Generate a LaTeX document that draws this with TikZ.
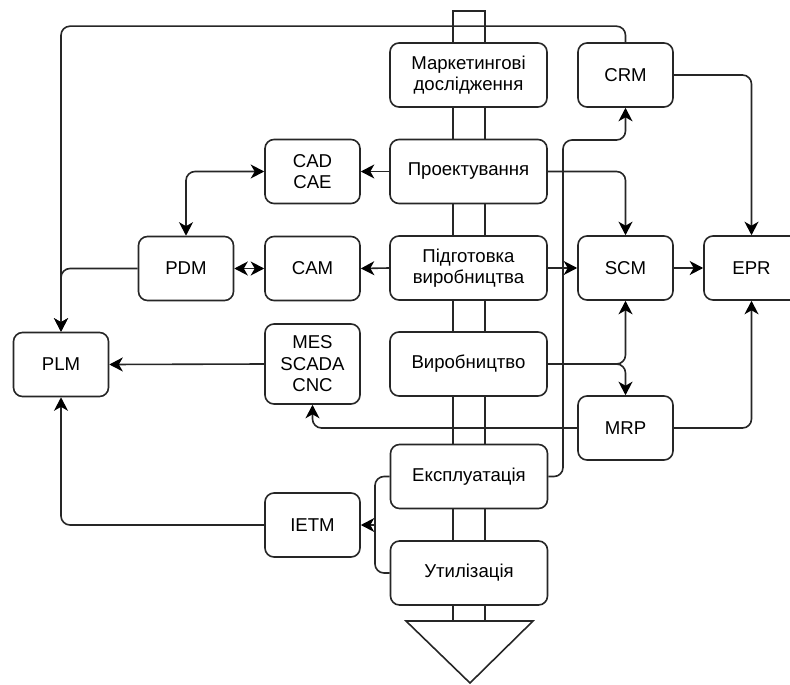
\documentclass[tikz,border=0pt]{standalone}
\usepackage{fontspec}
\setmainfont{Liberation Sans}
\usepackage{tikz}
\usetikzlibrary{arrows.meta, positioning, calc}

\begin{document}
\begin{tikzpicture}[x=1pt, y=-1pt,
  box/.style={draw=black!85, line width=1.6pt, fill=white, rounded corners=9pt, align=center,
    minimum width=95pt, minimum height=64pt, inner sep=2pt, font=\fontsize{18.6}{21.5}\selectfont},
  wide/.style={box, minimum width=157pt},
  line/.style={draw=black!85, line width=1.6pt, rounded corners=9pt},
  arr/.style={line, -{Stealth[length=13.5pt, width=14pt, inset=4pt, color=black]}},
  arr2/.style={line, {Stealth[length=13.5pt, width=14pt, inset=4pt, color=black]}-{Stealth[length=13.5pt, width=14pt, inset=4pt, color=black]}},
]
\useasboundingbox (0,0) rectangle (790,685);
\clip (0,0) rectangle (790,685);

% life cycle shaft
\draw[line, rounded corners=0pt] (453,11) rectangle (485,621);
\draw[line, rounded corners=0pt] (406,621) -- (533,621) -- (470,683) -- cycle;

% stages
\node[wide] (mark)  at (468.5,75)  {Маркетингові\\дослідження};
\node[wide] (proj)  at (468.5,171.5) {Проектування};
\node[wide] (pidg)  at (468.5,268) {Підготовка\\виробництва};
\node[wide] (vyr)   at (468.5,364) {Виробництво};
\node[wide] (ekspl) at (469,476.5) {Експлуатація};
\node[wide] (util)  at (469,573)   {Утилізація};

% systems
\node[box] (cad)  at (312.5,171.5) {CAD\\CAE};
\node[box] (cam)  at (312.5,268.5) {CAM};
\node[box] (pdm)  at (186,268.5)   {PDM};
\node[box, minimum height=80pt] (mes) at (312.5,364) {MES\\SCADA\\CNC};
\node[box] (plm)  at (61,364.5)    {PLM};
\node[box] (ietm) at (312.5,525)   {IETM};
\node[box] (crm)  at (625.5,75)    {CRM};
\node[box] (scm)  at (625.5,268)   {SCM};
\node[box] (epr)  at (751.5,268)   {EPR};
\node[box] (mrp)  at (625.5,428)   {MRP};

\coordinate (k1) at (563,140);
\coordinate (jn) at (375,525);

% links
\draw[arr] (crm.north) -- ++(0,-16) -| (plm.north);
\draw[arr] (pdm.west) -| (plm.north);
\draw[arr] (proj.west) -- (cad.east);
\draw[arr2] (cad.west) -| (pdm.north);
\draw[arr2] (pdm.east) -- (cam.west);
\draw[arr] (pidg.west) -- (cam.east);
\draw[arr] (pidg.east) -- (scm.west);
\draw[arr] (proj.east) -| (scm.north);
\draw[arr] (crm.east) -| (epr.north);
\draw[arr] (scm.east) -- (epr.west);
\draw[arr] (vyr.east) -| (scm.south);
\draw[arr] (vyr.east) -| (mrp.north);
\draw[arr] (mrp.east) -| (epr.south);
\draw[arr] (mrp.west) -| (mes.south);
\draw[arr] (mes.west) -- (plm.east);
\draw[arr] (ekspl.east) -| (k1) -| (crm.south);
\draw[line] (ekspl.west) -| (jn);
\draw[line] (util.west) -| (jn);
\draw[arr] (jn) -- (ietm.east);
\draw[arr] (ietm.west) -| (plm.south);
\end{tikzpicture}
\end{document}
